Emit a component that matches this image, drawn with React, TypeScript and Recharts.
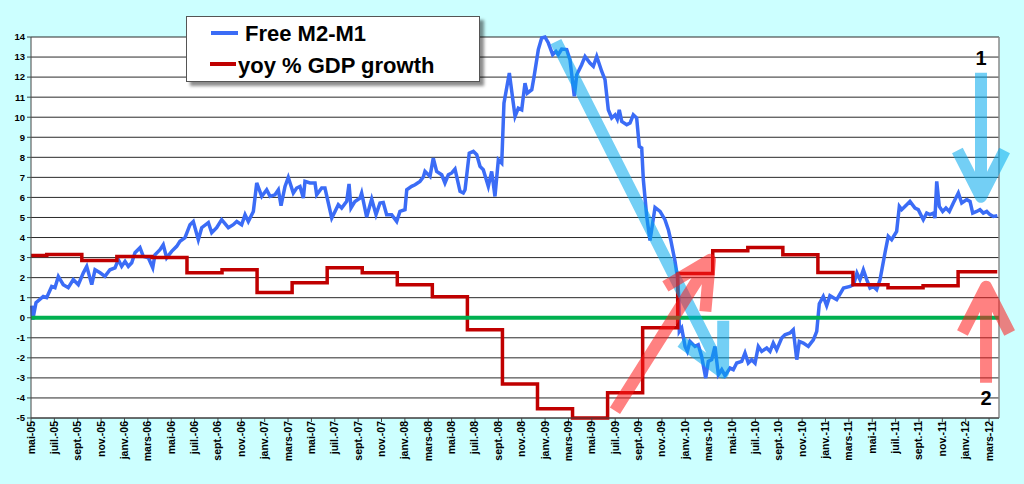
import { CartesianGrid, Legend, Line, LineChart, ReferenceLine, XAxis, YAxis } from "recharts";

// month index: 0 = mai 2005
const M2M1: [number, number][] = [
  [0.06, 0.6], [0.15, -0.1], [0.43, 0.75], [1.05, 1.06], [1.34, 1.0], [1.77, 1.56], [2.05, 1.5], [2.34, 2.06],
  [2.76, 1.65], [3.19, 1.5], [3.62, 1.9], [4.05, 1.65], [4.48, 2.24], [4.77, 2.56], [5.2, 1.65], [5.48, 2.39],
  [5.91, 2.24], [6.33, 2.06], [6.76, 2.39], [7.19, 2.49], [7.47, 2.89], [7.76, 2.56], [8.05, 2.81], [8.33, 2.56],
  [8.62, 2.74], [8.9, 3.24], [9.33, 3.49], [9.61, 3.06], [10.04, 2.99], [10.42, 2.49], [10.61, 3.14], [11.04, 3.39],
  [11.32, 3.64], [11.61, 2.99], [12.04, 3.31], [12.47, 3.56], [12.75, 3.81], [13.18, 3.99], [13.61, 4.64], [13.89, 4.8],
  [14.32, 3.89], [14.61, 4.49], [15.18, 4.74], [15.47, 4.24], [15.89, 4.49], [16.32, 4.89], [16.89, 4.49], [17.31, 4.64],
  [17.61, 4.8], [18.03, 4.64], [18.32, 5.14], [18.6, 4.8], [19.03, 5.3], [19.32, 6.72], [19.75, 6.05], [20.17, 6.38],
  [20.46, 6.05], [20.88, 6.13], [21.17, 6.38], [21.4, 5.59], [21.74, 6.55], [22.02, 7.0], [22.45, 6.22], [22.74, 6.47],
  [23.02, 6.55], [23.31, 5.97], [23.45, 6.8], [23.88, 6.72], [24.31, 6.72], [24.45, 6.13], [24.88, 6.47], [25.16, 6.47],
  [25.74, 4.97], [26.02, 5.3], [26.3, 5.64], [26.59, 5.47], [27.02, 5.8], [27.22, 6.67], [27.39, 5.47], [27.73, 5.8],
  [28.16, 5.97], [28.3, 6.22], [28.73, 5.02], [29.16, 5.92], [29.53, 5.14], [29.87, 5.72], [30.15, 5.75], [30.44, 5.14],
  [30.87, 5.14], [31.3, 4.8], [31.58, 5.3], [32.01, 5.39], [32.16, 6.38], [32.58, 6.55], [32.87, 6.63], [33.29, 6.8],
  [33.58, 7.02], [33.72, 7.3], [34.15, 7.05], [34.43, 7.96], [34.72, 7.3], [35.15, 7.13], [35.43, 6.72], [35.72, 7.13],
  [36.01, 7.22], [36.29, 7.41], [36.72, 6.3], [37.0, 6.22], [37.15, 6.38], [37.51, 8.21], [37.86, 8.3], [38.15, 8.13],
  [38.43, 7.55], [38.71, 7.38], [39.14, 6.55], [39.43, 7.3], [39.71, 6.05], [40.0, 7.88], [40.29, 7.71], [40.48, 10.7],
  [40.94, 12.2], [41.28, 10.7], [41.43, 10.04], [41.71, 10.45], [42.0, 10.37], [42.28, 11.7], [42.48, 11.2], [42.86, 11.37],
  [43.05, 12.0], [43.42, 13.37], [43.71, 13.95], [43.99, 14.0], [44.28, 13.7], [44.65, 13.12], [44.93, 13.28], [45.13, 13.12],
  [45.42, 13.4], [45.85, 13.37], [46.13, 12.87], [46.5, 11.04], [46.71, 12.12], [47.13, 12.62], [47.42, 13.03], [47.84, 12.7],
  [48.13, 12.54], [48.42, 13.03], [48.85, 12.28], [49.13, 11.87], [49.41, 10.37], [49.7, 9.96], [49.99, 10.12], [50.18, 9.9],
  [50.35, 10.37], [50.56, 9.79], [50.99, 9.63], [51.27, 9.71], [51.55, 10.12], [51.84, 9.96], [52.06, 8.54], [52.27, 8.46],
  [52.41, 6.88], [52.7, 5.05], [52.98, 3.85], [53.41, 5.5], [53.84, 5.3], [54.26, 4.89], [54.55, 4.39], [54.75, 3.89],
  [55.12, 2.81], [55.32, 2.06], [55.44, 1.06], [55.49, -0.68], [55.69, -0.51], [55.98, -1.43], [56.18, -1.68], [56.4, -1.18],
  [56.83, -1.43], [57.11, -1.35], [57.4, -1.93], [57.75, -3.01], [57.97, -2.18], [58.26, -2.09], [58.54, -1.43], [58.83, -2.84],
  [59.12, -2.59], [59.4, -2.89], [59.83, -2.51], [60.11, -2.59], [60.4, -2.26], [60.83, -2.18], [61.11, -1.76], [61.39, -2.26],
  [61.68, -2.09], [61.97, -2.26], [62.25, -1.43], [62.54, -1.68], [62.97, -1.51], [63.25, -1.68], [63.53, -1.26], [63.82, -1.6],
  [64.25, -1.01], [64.53, -0.85], [64.96, -0.76], [65.24, -0.6], [65.54, -2.09], [65.76, -1.18], [66.1, -1.26], [66.53, -1.43],
  [66.96, -1.1], [67.25, -0.68], [67.47, 0.7], [67.81, 1.06], [68.1, 0.6], [68.38, 1.1], [68.96, 0.9], [69.54, 1.48],
  [70.11, 1.56], [70.4, 1.65], [70.69, 2.23], [70.95, 1.9], [71.24, 2.39], [71.53, 1.9], [71.81, 1.48], [72.1, 1.56],
  [72.38, 1.4], [72.67, 1.9], [73.09, 3.23], [73.37, 4.06], [73.66, 3.89], [74.09, 4.31], [74.32, 5.55], [74.52, 5.39],
  [74.95, 5.64], [75.23, 5.8], [75.66, 5.47], [75.94, 5.39], [76.37, 4.89], [76.66, 5.22], [76.94, 5.14], [77.23, 5.22],
  [77.37, 4.97], [77.52, 6.8], [77.74, 5.55], [78.03, 5.3], [78.31, 5.47], [78.6, 5.3], [78.94, 5.72], [79.37, 6.22],
  [79.66, 5.72], [80.09, 5.89], [80.37, 5.8], [80.6, 5.22], [80.94, 5.3], [81.22, 5.39], [81.51, 5.22], [81.8, 5.3],
  [82.08, 5.14], [82.37, 5.05], [82.71, 5.09],
];

// quarterly yoy GDP growth, value holds from this month on
const GDP: [number, number][] = [
  [0, 3.1], [1.35, 3.15], [4.35, 2.85], [7.35, 3.06], [10.35, 3.01], [13.35, 2.24], [16.35, 2.39], [19.35, 1.26],
  [22.35, 1.74], [25.35, 2.49], [28.35, 2.24], [31.35, 1.65], [34.35, 1.05], [37.35, -0.6], [40.35, -3.3], [43.35, -4.54],
  [46.35, -5.0], [49.35, -3.74], [52.35, -0.5], [55.35, 2.2], [58.35, 3.34], [61.35, 3.5], [64.35, 3.14], [67.35, 2.26],
  [70.35, 1.65], [73.35, 1.5], [76.35, 1.6], [79.35, 2.29], [82.7, 2.29],
];

const ZERO: [number, number][] = [[0, 0], [82.85, 0]];

const TICK_LABELS = [
  "mai-05", "juil.-05", "sept.-05", "nov.-05",
  "janv.-06", "mars-06", "mai-06", "juil.-06", "sept.-06", "nov.-06",
  "janv.-07", "mars-07", "mai-07", "juil.-07", "sept.-07", "nov.-07",
  "janv.-08", "mars-08", "mai-08", "juil.-08", "sept.-08", "nov.-08",
  "janv.-09", "mars-09", "mai-09", "juil.-09", "sept.-09", "nov.-09",
  "janv.-10", "mars-10", "mai-10", "juil.-10", "sept.-10", "nov.-10",
  "janv.-11", "mars-11", "mai-11", "juil.-11", "sept.-11", "nov.-11",
  "janv.-12", "mars-12",
];
const TICK_MONTHS = TICK_LABELS.map((_, i) => i * 2);
const Y_TICKS = [-5, -4, -3, -2, -1, 0, 1, 2, 3, 4, 5, 6, 7, 8, 9, 10, 11, 12, 13, 14];

// annotation arrows [from month, from value, to month, to value]
const ARROW_DOWN_BIG = [44.93, 13.77, 59.23, -2.74];
const ARROW_UP_BIG = [49.98, -4.64, 58.12, 2.89];
const ARROW_1 = [81.31, 12.22, 81.31, 6.03];
const ARROW_2 = [81.74, -3.24, 81.74, 1.55];

const toRows = (pts: [number, number][]) => pts.map(([m, v]) => ({ m, v }));
const m2m1Data = toRows(M2M1);
const gdpData = toRows(GDP);
const zeroData = toRows(ZERO);

const FONT = "'Liberation Sans', Arial, sans-serif";
const LIGHT_BLUE = "#00a8ec";
const LIGHT_RED = "#ff1a1a";

function MonthTick(props: any) {
  const { x, y, payload } = props;
  const label = TICK_LABELS[Math.round(payload.value / 2)];
  return (
    <g transform={`translate(${x},${y - 3})`}>
      <text
        transform="rotate(-90)"
        textAnchor="end"
        dy={3.5}
        fontSize={10.5}
        fontWeight={700}
        fontFamily={FONT}
        fill="#000"
      >
        {label}
      </text>
    </g>
  );
}

function arrowShape(color: string, text?: string, textDy = 0) {
  return (p: any) => {
    const { x1, y1, x2, y2 } = p;
    const ang = Math.atan2(y1 - y2, x1 - x2);
    const spread = (27 * Math.PI) / 180;
    const head = 52;
    const ax = x2 + head * Math.cos(ang + spread);
    const ay = y2 + head * Math.sin(ang + spread);
    const bx = x2 + head * Math.cos(ang - spread);
    const by = y2 + head * Math.sin(ang - spread);
    return (
      <g>
        <path
          d={`M${x1},${y1}L${x2},${y2}M${ax},${ay}L${x2},${y2}L${bx},${by}`}
          stroke={color}
          strokeOpacity={0.55}
          strokeWidth={12}
          fill="none"
          strokeLinejoin="round"
        />
        {text && (
          <text x={x1} y={y1 + textDy} textAnchor="middle" fontSize={20} fontWeight={700} fontFamily={FONT} fill="#000">
            {text}
          </text>
        )}
      </g>
    );
  };
}

function LegendBox() {
  return (
    <div
      style={{
        width: 292,
        height: 64,
        background: "#fff",
        border: "1px solid #555",
        boxShadow: "4px 4px 3px rgba(0,0,0,0.45)",
      }}
    >
      <svg width={292} height={64} style={{ display: "block" }}>
        <line x1={24} y1={16} x2={51} y2={16} stroke="#3b6cf6" strokeWidth={4} />
        <text x={58} y={24} fontSize={22} fontWeight={700} fontFamily={FONT} fill="#000">
          Free M2-M1
        </text>
        <line x1={23} y1={47} x2={49} y2={47} stroke="#c00000" strokeWidth={4} />
        <text x={51} y={56} fontSize={22} fontWeight={700} fontFamily={FONT} fill="#000">
          yoy % GDP growth
        </text>
      </svg>
    </div>
  );
}

export default function App() {
  const seg = (a: number[]) => [
    { x: a[0], y: a[1] },
    { x: a[2], y: a[3] },
  ];
  return (
    <div style={{ position: "absolute", left: 0, top: 0, width: 1024, height: 484, background: "#ccffff" }}>
      <LineChart width={1024} height={484} data={m2m1Data} margin={{ top: 37, right: 25, bottom: 0, left: 5 }}>
        <CartesianGrid vertical={false} stroke="#2a2a2a" fill="#ffffff" fillOpacity={1} />
        <XAxis
          type="number"
          dataKey="m"
          domain={[0, 82.85]}
          ticks={TICK_MONTHS}
          interval={0}
          height={66}
          tickSize={4}
          stroke="#444"
          tick={<MonthTick />}
        />
        <YAxis
          type="number"
          domain={[-5, 14]}
          ticks={Y_TICKS}
          interval={0}
          width={26}
          tickSize={4}
          stroke="#444"
          tick={{ fontSize: 9.5, fontWeight: 700, fill: "#000", fontFamily: FONT }}
        />
        <ReferenceLine x={82.85} stroke="#8a8a8a" strokeWidth={1.5} />
        <Line
          data={m2m1Data}
          dataKey="v"
          type="linear"
          stroke="#3b6cf6"
          strokeWidth={3.5}
          dot={false}
          isAnimationActive={false}
        />
        <Line
          data={gdpData}
          dataKey="v"
          type="stepAfter"
          stroke="#c00000"
          strokeWidth={3.5}
          dot={false}
          isAnimationActive={false}
        />
        <Line
          data={zeroData}
          dataKey="v"
          type="linear"
          stroke="#00b050"
          strokeWidth={4}
          dot={false}
          isAnimationActive={false}
        />
        <ReferenceLine segment={seg(ARROW_DOWN_BIG)} ifOverflow="visible" shape={arrowShape(LIGHT_BLUE)} />
        <ReferenceLine segment={seg(ARROW_UP_BIG)} ifOverflow="visible" shape={arrowShape(LIGHT_RED)} />
        <ReferenceLine segment={seg(ARROW_1)} ifOverflow="visible" shape={arrowShape(LIGHT_BLUE, "1", -8)} />
        <ReferenceLine segment={seg(ARROW_2)} ifOverflow="visible" shape={arrowShape(LIGHT_RED, "2", 22)} />
        <Legend
          layout="vertical"
          align="center"
          verticalAlign="middle"
          wrapperStyle={{ left: 186, top: 16, width: 294, height: 66 }}
          content={() => <LegendBox />}
        />
      </LineChart>
    </div>
  );
}
